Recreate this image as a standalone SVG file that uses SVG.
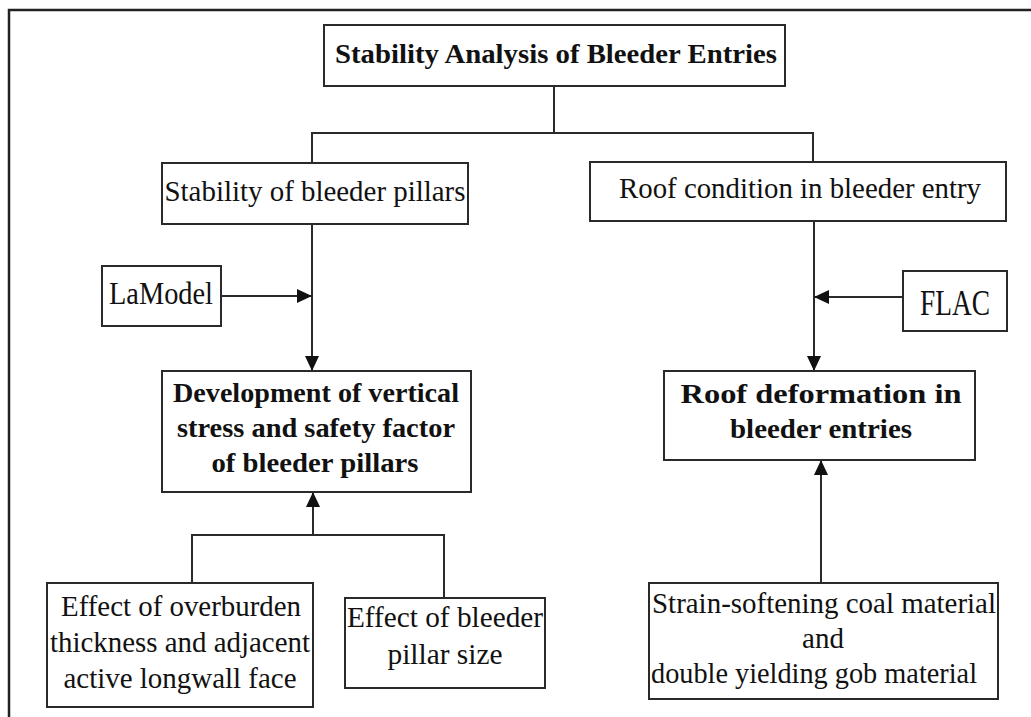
<svg xmlns="http://www.w3.org/2000/svg" width="1031" height="717" viewBox="0 0 1031 717">
  <style>
    .box { fill: #ffffff; stroke: #2a2a2a; stroke-width: 2; }
    .line { fill: none; stroke: #2a2a2a; stroke-width: 2; }
    .t { font-family: "Liberation Serif", "Times New Roman", serif; font-size: 29px; fill: #111111; }
    .b { font-weight: bold; font-size: 28px; }
    .c { text-anchor: middle; }
  </style>
  <defs>
    <marker id="arrow" markerUnits="userSpaceOnUse" markerWidth="15" markerHeight="14" refX="15" refY="7" orient="auto">
      <path d="M0,0 L15,7 L0,14 Z" fill="#111111"/>
    </marker>
  </defs>

  <rect width="1031" height="717" fill="#ffffff"/>
  <!-- outer frame, running off the right and bottom edges -->
  <rect x="9" y="10" width="1040" height="730" fill="none" stroke="#222222" stroke-width="2.5"/>

  <g id="connectors">
    <polyline class="line" points="554,86 554,133"/>
    <polyline class="line" points="312,163 312,133 813,133 813,162"/>
    <line class="line" x1="312" y1="224" x2="312" y2="371" marker-end="url(#arrow)"/>
    <line class="line" x1="221" y1="296" x2="312" y2="296" marker-end="url(#arrow)"/>
    <line class="line" x1="814" y1="221" x2="814" y2="371" marker-end="url(#arrow)"/>
    <line class="line" x1="903" y1="297" x2="814" y2="297" marker-end="url(#arrow)"/>
    <polyline class="line" points="192,583 192,535 444,535 444,598"/>
    <line class="line" x1="313" y1="535" x2="313" y2="492" marker-end="url(#arrow)"/>
    <line class="line" x1="821" y1="582" x2="821" y2="460" marker-end="url(#arrow)"/>
  </g>

  <g id="title">
    <rect class="box" x="324" y="25" width="461" height="61"/>
    <text class="t b c" x="556" y="63" textLength="442" lengthAdjust="spacingAndGlyphs">Stability Analysis of Bleeder Entries</text>
  </g>

  <g id="pillars">
    <rect class="box" x="162" y="163" width="306" height="61"/>
    <text class="t c" x="315" y="201" textLength="301" lengthAdjust="spacingAndGlyphs">Stability of bleeder pillars</text>
  </g>

  <g id="roof-condition">
    <rect class="box" x="590" y="162" width="416" height="59"/>
    <text class="t c" x="800" y="198" textLength="362" lengthAdjust="spacingAndGlyphs">Roof condition in bleeder entry</text>
  </g>

  <g id="lamodel">
    <rect class="box" x="102" y="266" width="119" height="60"/>
    <text class="t c" x="161" y="304" style="font-size:32px" textLength="104" lengthAdjust="spacingAndGlyphs">LaModel</text>
  </g>

  <g id="flac">
    <rect class="box" x="903" y="271" width="104" height="60"/>
    <text class="t c" x="955" y="315" style="font-size:36px" textLength="70" lengthAdjust="spacingAndGlyphs">FLAC</text>
  </g>

  <g id="vertical-stress">
    <rect class="box" x="162" y="371" width="309" height="121"/>
    <text class="t b c" x="316" y="402" textLength="286" lengthAdjust="spacingAndGlyphs">Development of vertical</text>
    <text class="t b c" x="316" y="437" textLength="278" lengthAdjust="spacingAndGlyphs">stress and safety factor</text>
    <text class="t b c" x="315" y="472" textLength="207" lengthAdjust="spacingAndGlyphs">of bleeder pillars</text>
  </g>

  <g id="roof-deformation">
    <rect class="box" x="664" y="371" width="311" height="89"/>
    <text class="t b c" x="821" y="403" textLength="281" lengthAdjust="spacingAndGlyphs">Roof deformation in</text>
    <text class="t b c" x="821" y="438" textLength="182" lengthAdjust="spacingAndGlyphs">bleeder entries</text>
  </g>

  <g id="overburden">
    <rect class="box" x="47" y="583" width="266" height="124"/>
    <text class="t c" x="181" y="616" textLength="240" lengthAdjust="spacingAndGlyphs">Effect of overburden</text>
    <text class="t c" x="180" y="652" textLength="260" lengthAdjust="spacingAndGlyphs">thickness and adjacent</text>
    <text class="t c" x="180" y="688" textLength="233" lengthAdjust="spacingAndGlyphs">active longwall face</text>
  </g>

  <g id="pillar-size">
    <rect class="box" x="345" y="598" width="200" height="90"/>
    <text class="t c" x="445" y="627" textLength="196" lengthAdjust="spacingAndGlyphs">Effect of bleeder</text>
    <text class="t c" x="445" y="664" textLength="115" lengthAdjust="spacingAndGlyphs">pillar size</text>
  </g>

  <g id="materials">
    <rect class="box" x="649" y="583" width="349" height="116"/>
    <text class="t c" x="824" y="613" textLength="344" lengthAdjust="spacingAndGlyphs">Strain-softening coal material</text>
    <text class="t c" x="823" y="648">and</text>
    <text class="t" x="651" y="683" textLength="326" lengthAdjust="spacingAndGlyphs">double yielding gob material</text>
  </g>
</svg>
